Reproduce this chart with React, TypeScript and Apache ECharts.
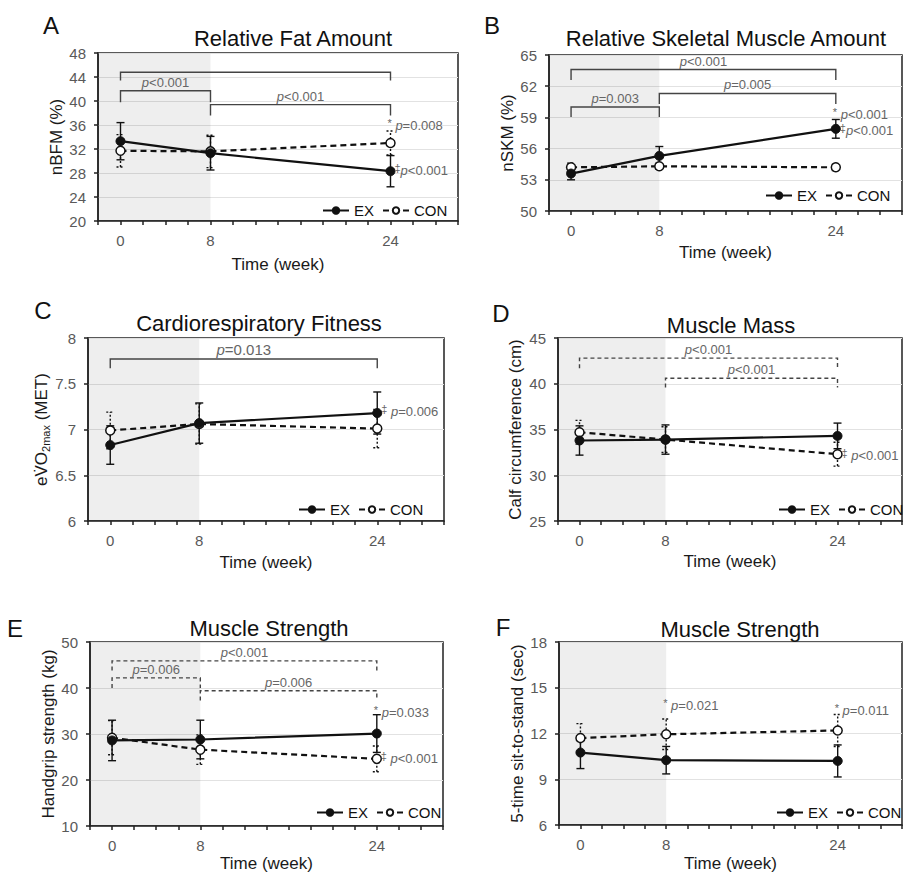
import React, { useEffect, useRef } from 'react';
import * as echarts from 'echarts';

const FONT = 'Liberation Sans, Arial, Helvetica, sans-serif';

// time points (week)
const weeks = [0, 8, 24];
const shadeSpan = [-2, 8];

// A: Relative Fat Amount (nBFM %)
const fatEx = [33.3, 31.3, 28.3];
const fatExSd = [3.1, 2.8, 2.6];
const fatCon = [31.7, 31.6, 33.0];
const fatConSd = [2.7, 2.7, 2.0];
const fatBrackets: [number, number, number, number, string][] = [
  [0, 24, 44.8, 1.4, ''],
  [0, 8, 41.7, 1.9, 'p<0.001'],
  [8, 24, 39.4, 1.8, 'p<0.001'],
];
const fatNotes: [number, number, string][] = [
  [24, 36.0, '* p=0.008'],
  [24, 28.4, '‡p<0.001'],
];

// B: Relative Skeletal Muscle Amount (nSKM %)
const skmEx = [53.6, 55.3, 57.9];
const skmExSd = [0.6, 0.9, 0.9];
const skmCon = [54.2, 54.3, 54.2];
const skmConSd = [0.4, 0.3, 0.3];
const skmBrackets: [number, number, number, number, string][] = [
  [0, 24, 63.6, 1.0, 'p<0.001'],
  [8, 24, 61.3, 1.0, 'p=0.005'],
  [0, 8, 60.0, 0.95, 'p=0.003'],
];
const skmNotes: [number, number, string][] = [
  [24, 59.3, '* p<0.001'],
  [24, 57.7, '‡p<0.001'],
];

// C: Cardiorespiratory Fitness (eVO2max MET)
const vo2Ex = [6.83, 7.07, 7.18];
const vo2ExSd = [0.21, 0.22, 0.23];
const vo2Con = [6.99, 7.06, 7.01];
const vo2ConSd = [0.2, 0.22, 0.21];
const vo2Brackets: [number, number, number, number, string][] = [
  [0, 24, 7.77, 0.1, 'p=0.013'],
];
const vo2Notes: [number, number, string][] = [[24, 7.2, '‡ p=0.006']];

// D: Muscle Mass (calf circumference cm)
const calfEx = [33.8, 33.9, 34.3];
const calfExSd = [1.6, 1.6, 1.4];
const calfCon = [34.7, 33.9, 32.3];
const calfConSd = [1.3, 1.4, 1.3];
const calfBrackets: [number, number, number, number, string][] = [
  [0, 24, 42.8, 1.1, 'p<0.001'],
  [8, 24, 40.6, 1.0, 'p<0.001'],
];
const calfNotes: [number, number, string][] = [[24, 32.2, '‡ p<0.001']];

// E: Muscle Strength (handgrip kg)
const gripEx = [28.6, 28.8, 30.1];
const gripExSd = [4.4, 4.2, 4.1];
const gripCon = [29.2, 26.6, 24.6];
const gripConSd = [3.7, 3.2, 2.8];
const gripBrackets: [number, number, number, number, string][] = [
  [0, 24, 45.9, 2.1, 'p<0.001'],
  [0, 8, 42.2, 2.2, 'p=0.006'],
  [8, 24, 39.4, 2.1, 'p=0.006'],
];
const gripNotes: [number, number, string][] = [
  [24, 34.7, '* p=0.033'],
  [24, 24.7, '‡ p<0.001'],
];

// F: Muscle Strength (5-time sit-to-stand sec)
const stsEx = [10.75, 10.25, 10.2];
const stsExSd = [1.05, 0.9, 1.05];
const stsCon = [11.7, 11.95, 12.2];
const stsConSd = [0.95, 1.0, 1.05];
const stsBrackets: [number, number, number, number, string][] = [];
const stsNotes: [number, number, string][] = [
  [8, 13.85, '* p=0.021'],
  [24, 13.5, '* p=0.011'],
];

type Panel = {
  letter: string;
  letterPos: [number, number];
  title: string;
  titlePos: [number, number];
  grid: { left: number; top: number; width: number; height: number };
  yMin: number;
  yMax: number;
  yStep: number;
  yName: string;
  yRich?: any;
  yNameGap: number;
  xNameGap: number;
  ex: number[];
  exSd: number[];
  con: number[];
  conSd: number[];
  brackets: [number, number, number, number, string][];
  bracketDash: boolean;
  bracketFont: number;
  notes: [number, number, string][];
  legendPos: [number, number];
};

const panels: Panel[] = [
  {
    letter: 'A', letterPos: [51, 25], title: 'Relative Fat Amount', titlePos: [293, 38],
    grid: { left: 98, top: 53, width: 360, height: 168 },
    yMin: 20, yMax: 48, yStep: 4, yName: 'nBFM (%)', yNameGap: 31, xNameGap: 35,
    ex: fatEx, exSd: fatExSd, con: fatCon, conSd: fatConSd,
    brackets: fatBrackets, bracketDash: false, bracketFont: 13, notes: fatNotes, legendPos: [322, 203],
  },
  {
    letter: 'B', letterPos: [492, 25], title: 'Relative Skeletal Muscle Amount', titlePos: [726, 38],
    grid: { left: 549, top: 55, width: 355, height: 156 },
    yMin: 50, yMax: 65, yStep: 3, yName: 'nSKM (%)', yNameGap: 30, xNameGap: 33,
    ex: skmEx, exSd: skmExSd, con: skmCon, conSd: skmConSd,
    brackets: skmBrackets, bracketDash: false, bracketFont: 13, notes: skmNotes, legendPos: [765, 188],
  },
  {
    letter: 'C', letterPos: [43, 310], title: 'Cardiorespiratory Fitness', titlePos: [259, 323],
    grid: { left: 88, top: 338, width: 356, height: 183 },
    yMin: 6, yMax: 8, yStep: 0.5, yName: '{a|eV̇O}{b|2max}{a| (MET)}', yNameGap: 34, xNameGap: 33,
    yRich: {
      a: { fontSize: 17, color: '#1a1a1a', fontFamily: FONT },
      b: { fontSize: 11, color: '#1a1a1a', fontFamily: FONT, padding: [8, 0, 0, 0] },
    },
    ex: vo2Ex, exSd: vo2ExSd, con: vo2Con, conSd: vo2ConSd,
    brackets: vo2Brackets, bracketDash: false, bracketFont: 15, notes: vo2Notes, legendPos: [298, 502],
  },
  {
    letter: 'D', letterPos: [501, 313], title: 'Muscle Mass', titlePos: [731, 325],
    grid: { left: 558, top: 338, width: 353, height: 183 },
    yMin: 25, yMax: 45, yStep: 5, yName: 'Calf circumference (cm)', yNameGap: 34, xNameGap: 32,
    ex: calfEx, exSd: calfExSd, con: calfCon, conSd: calfConSd,
    brackets: calfBrackets, bracketDash: true, bracketFont: 13, notes: calfNotes, legendPos: [778, 502],
  },
  {
    letter: 'E', letterPos: [15, 628], title: 'Muscle Strength', titlePos: [269, 628],
    grid: { left: 90, top: 642, width: 353, height: 185 },
    yMin: 10, yMax: 50, yStep: 10, yName: 'Handgrip strength (kg)', yNameGap: 33, xNameGap: 29,
    ex: gripEx, exSd: gripExSd, con: gripCon, conSd: gripConSd,
    brackets: gripBrackets, bracketDash: true, bracketFont: 13, notes: gripNotes, legendPos: [316, 805],
  },
  {
    letter: 'F', letterPos: [503, 627], title: 'Muscle Strength', titlePos: [740, 629],
    grid: { left: 559, top: 642, width: 353, height: 184 },
    yMin: 6, yMax: 18, yStep: 3, yName: '5-time sit-to-stand (sec)', yNameGap: 33, xNameGap: 30,
    ex: stsEx, exSd: stsExSd, con: stsCon, conSd: stsConSd,
    brackets: stsBrackets, bracketDash: false, bracketFont: 13, notes: stsNotes, legendPos: [776, 805],
  },
];

function pRich(s: string) {
  return s
    .replace(/\*/g, '{s|*}')
    .replace(/‡/g, '{s|‡}')
    .replace(/p/g, '{i|p}');
}

const GRAY = '#666';

function buildOption() {
  const grid: any[] = [];
  const xAxis: any[] = [];
  const yAxis: any[] = [];
  const series: any[] = [];
  const legend: any[] = [];
  const graphic: any[] = [];

  panels.forEach((p, i) => {
    grid.push({
      ...p.grid,
      show: true,
      borderColor: '#222',
      borderWidth: 1.5,
      backgroundColor: 'transparent',
      containLabel: false,
    });
    xAxis.push({
      gridIndex: i,
      type: 'value',
      min: -2,
      max: 30,
      interval: 2,
      name: 'Time (week)',
      nameLocation: 'middle',
      nameGap: p.xNameGap,
      nameTextStyle: { fontSize: 17, color: '#1a1a1a', fontFamily: FONT },
      axisLine: { show: true, onZero: false, lineStyle: { color: '#222', width: 1.5 } },
      axisTick: { show: true, length: 4, lineStyle: { color: '#222', width: 1.5 } },
      axisLabel: {
        fontSize: 15,
        color: '#595959',
        margin: 12,
        fontFamily: FONT,
        formatter: (v: number) => (weeks.includes(v) ? String(v) : ''),
      },
      splitLine: { show: false },
    });
    yAxis.push({
      gridIndex: i,
      type: 'value',
      min: p.yMin,
      max: p.yMax,
      interval: p.yStep,
      name: p.yName,
      nameLocation: 'middle',
      nameGap: p.yNameGap,
      nameRotate: 90,
      nameTextStyle: p.yRich
        ? { rich: p.yRich, fontSize: 17, color: '#1a1a1a', fontFamily: FONT }
        : { fontSize: 17, color: '#1a1a1a', fontFamily: FONT },
      axisLine: { show: true, onZero: false, lineStyle: { color: '#222', width: 1.5 } },
      axisTick: { show: true, length: 4, lineStyle: { color: '#222', width: 1.5 } },
      axisLabel: { fontSize: 15, color: '#595959', margin: 12, fontFamily: FONT },
      splitLine: { show: true, lineStyle: { color: '#e2e2e2', width: 1.2 } },
    });

    // shaded intervention phase
    series.push({
      type: 'custom',
      name: 'shade',
      xAxisIndex: i,
      yAxisIndex: i,
      z: 1,
      silent: true,
      data: [[shadeSpan[0], shadeSpan[1]]],
      renderItem: (params: any, api: any) => {
        const cs = params.coordSys;
        const x0 = api.coord([api.value(0), p.yMin])[0];
        const x1 = api.coord([api.value(1), p.yMin])[0];
        return {
          type: 'rect',
          shape: { x: x0 + 0.8, y: cs.y + 0.8, width: x1 - x0 - 0.8, height: cs.height - 1.6 },
          style: { fill: 'rgba(0,0,0,0.065)' },
        };
      },
    });

    const errSeries = (vals: number[], sds: number[], dotted: boolean, name: string) => ({
      type: 'custom',
      name,
      xAxisIndex: i,
      yAxisIndex: i,
      z: 2,
      silent: true,
      data: weeks.map((w, k) => [w, vals[k] - sds[k], vals[k] + sds[k]]),
      renderItem: (params: any, api: any) => {
        const x = api.value(0);
        const lo = api.coord([x, api.value(1)]);
        const hi = api.coord([x, api.value(2)]);
        const w = 4;
        const style: any = { stroke: '#111', lineWidth: 1.4, lineDash: dotted ? [2, 2] : null };
        return {
          type: 'group',
          children: [
            { type: 'line', shape: { x1: lo[0], y1: lo[1], x2: hi[0], y2: hi[1] }, style },
            { type: 'line', shape: { x1: lo[0] - w, y1: lo[1], x2: lo[0] + w, y2: lo[1] }, style },
            { type: 'line', shape: { x1: hi[0] - w, y1: hi[1], x2: hi[0] + w, y2: hi[1] }, style },
          ],
        };
      },
    });
    series.push(errSeries(p.con, p.conSd, true, 'CON err'));
    series.push(errSeries(p.ex, p.exSd, false, 'EX err'));

    series.push({
      type: 'line',
      name: 'EX',
      xAxisIndex: i,
      yAxisIndex: i,
      z: 4,
      data: weeks.map((w, k) => [w, p.ex[k]]),
      symbol: 'circle',
      symbolSize: 9,
      lineStyle: { color: '#111', width: 2.2, type: 'solid' },
      itemStyle: { color: '#111', borderColor: '#111', borderWidth: 1 },
    });
    series.push({
      type: 'line',
      name: 'CON',
      xAxisIndex: i,
      yAxisIndex: i,
      z: 3,
      data: weeks.map((w, k) => [w, p.con[k]]),
      symbol: 'circle',
      symbolSize: 9,
      lineStyle: { color: '#111', width: 2.2, type: [6, 4] },
      itemStyle: { color: '#fff', borderColor: '#111', borderWidth: 1.5 },
    });

    if (p.brackets.length) {
      series.push({
        type: 'custom',
        name: 'brackets',
        xAxisIndex: i,
        yAxisIndex: i,
        z: 5,
        silent: true,
        data: p.brackets.map((b, k) => [b[0], b[1], b[2], b[3], k]),
        renderItem: (params: any, api: any) => {
          const a = api.value(0);
          const b = api.value(1);
          const y = api.value(2);
          const d = api.value(3);
          const label = p.brackets[api.value(4)][4];
          const p1 = api.coord([a, y - d]);
          const p2 = api.coord([a, y]);
          const p3 = api.coord([b, y]);
          const p4 = api.coord([b, y - d]);
          const children: any[] = [
            {
              type: 'polyline',
              shape: { points: [p1, p2, p3, p4] },
              style: {
                stroke: '#444',
                fill: null,
                lineWidth: 1.4,
                lineDash: p.bracketDash ? [4, 3] : null,
              },
            },
          ];
          if (label) {
            children.push({
              type: 'text',
              x: (p2[0] + p3[0]) / 2,
              y: p2[1] - 2,
              style: {
                text: pRich(label),
                fill: GRAY,
                fontSize: p.bracketFont,
                fontFamily: FONT,
                align: 'center',
                verticalAlign: 'bottom',
                rich: {
                  i: { fontStyle: 'italic', fontSize: p.bracketFont, fill: GRAY, color: GRAY, fontFamily: FONT },
                },
              },
            });
          }
          return { type: 'group', children };
        },
      });
    }

    series.push({
      type: 'custom',
      name: 'notes',
      xAxisIndex: i,
      yAxisIndex: i,
      z: 5,
      silent: true,
      data: p.notes.map((n, k) => [n[0], n[1], k]),
      renderItem: (params: any, api: any) => {
        const txt = p.notes[api.value(2)][2];
        const pt = api.coord([api.value(0), api.value(1)]);
        const dx = txt.startsWith('*') ? -3 : 4;
        return {
          type: 'text',
          x: pt[0] + dx,
          y: pt[1],
          style: {
            text: pRich(txt),
            fill: GRAY,
            fontSize: 13,
            fontFamily: FONT,
            align: 'left',
            verticalAlign: 'middle',
            rich: {
              i: { fontStyle: 'italic', fontSize: 13, fill: GRAY, color: GRAY, fontFamily: FONT },
              s: { fontSize: 11, fill: GRAY, color: GRAY, fontFamily: FONT, padding: [0, 0, 5, 0] },
            },
          },
        };
      },
    });

    legend.push({
      left: p.legendPos[0],
      top: p.legendPos[1],
      width: 400,
      orient: 'horizontal',
      padding: 0,
      data: ['EX', 'CON'],
      itemWidth: 26,
      itemHeight: 8,
      itemGap: 8,
      selectedMode: false,
      textStyle: { fontSize: 15, color: '#111', fontFamily: FONT },
    });

    graphic.push({
      type: 'text',
      x: p.letterPos[0],
      y: p.letterPos[1],
      style: {
        text: p.letter,
        fill: '#111',
        font: `24px ${FONT}`,
        align: 'center',
        verticalAlign: 'middle',
        textAlign: 'center',
        textVerticalAlign: 'middle',
      },
    });
    graphic.push({
      type: 'text',
      x: p.titlePos[0],
      y: p.titlePos[1],
      style: {
        text: p.title,
        fill: '#111',
        font: `22px ${FONT}`,
        align: 'center',
        verticalAlign: 'middle',
        textAlign: 'center',
        textVerticalAlign: 'middle',
      },
    });
  });

  return {
    animation: false,
    backgroundColor: '#fff',
    textStyle: { fontFamily: FONT },
    grid,
    xAxis,
    yAxis,
    series,
    legend,
    graphic,
  };
}

export default function App() {
  const ref = useRef<HTMLDivElement>(null);
  useEffect(() => {
    if (!ref.current) return;
    const chart = echarts.init(ref.current, undefined, { renderer: 'svg' });
    chart.setOption(buildOption() as any);
    return () => chart.dispose();
  }, []);
  return (
    <div
      ref={ref}
      style={{ position: 'fixed', left: 0, top: 0, width: 905, height: 873, background: '#fff' }}
    />
  );
}
